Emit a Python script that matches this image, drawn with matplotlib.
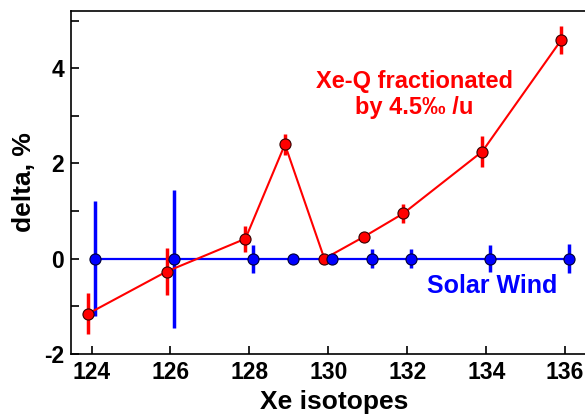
import matplotlib
matplotlib.use("Agg")
import matplotlib.pyplot as plt
from matplotlib.ticker import MultipleLocator

isotopes = [124, 126, 128, 129, 130, 131, 132, 134, 136]
xeq_delta = [-1.16, -0.27, 0.42, 2.40, 0.0, 0.46, 0.95, 2.25, 4.59]
xeq_err = [0.43, 0.50, 0.27, 0.22, 0.0, 0.08, 0.20, 0.32, 0.30]
sw_delta = [0, 0, 0, 0, 0, 0, 0, 0, 0]
sw_err = [1.21, 1.45, 0.29, 0.0, 0.0, 0.20, 0.20, 0.28, 0.30]
x_ticks = [124, 126, 128, 130, 132, 134, 136]
y_ticks = [-2, 0, 2, 4]

plt.rcParams['font.family'] = ['Liberation Sans', 'DejaVu Sans']
plt.rcParams['axes.unicode_minus'] = False
fig = plt.figure(figsize=(5.85, 4.15), dpi=100)
ax = fig.add_axes([71/585, 1-354/415, 1.02 - 71/585, (354-11)/415])

xr = [x - 0.1 for x in isotopes]
xb = [x + 0.1 for x in isotopes]

ax.errorbar(xb, sw_delta, yerr=sw_err, fmt='none', ecolor='#0000ff', elinewidth=2.5, capsize=0, zorder=2)
ax.plot(xb, sw_delta, color='#0000ff', lw=1.6, zorder=2)
ax.plot(xb, sw_delta, 'o', color='#0000ff', mec='#000033', mew=0.8, ms=8, zorder=4)

ax.errorbar(xr, xeq_delta, yerr=xeq_err, fmt='none', ecolor='#ff0000', elinewidth=2.5, capsize=0, zorder=3)
ax.plot(xr, xeq_delta, color='#ff0000', lw=1.5, zorder=3)
ax.plot(xr, xeq_delta, 'o', color='#ff0000', mec='#330000', mew=0.8, ms=8, zorder=3.5)

ax.set_xlim(123.48, 136.8)
ax.set_ylim(-2, 5.2)
ax.set_xticks(x_ticks)
ax.set_yticks(y_ticks)
ax.yaxis.set_minor_locator(MultipleLocator(1))
ax.tick_params(axis='both', which='both', direction='in', length=6, width=1.2, top=False, right=False)
ax.tick_params(axis='both', which='major', labelsize=16.5, pad=5)
for lab in ax.get_xticklabels() + ax.get_yticklabels():
    lab.set_fontweight('bold')
for s in ['left', 'bottom', 'top']:
    ax.spines[s].set_linewidth(1.2)
ax.spines['right'].set_visible(False)

ax.set_xlabel('Xe isotopes', fontsize=19, fontweight='bold', labelpad=4)
ax.set_ylabel('delta, %', fontsize=19, fontweight='bold', labelpad=6)

ax.text(132.18, 3.45, 'Xe-Q fractionated\nby 4.5\u2030 /u', color='#ff0000', fontsize=17,
        fontweight='bold', ha='center', va='center', linespacing=1.2)
ax.text(134.14, -0.57, 'Solar Wind', color='#0000ff', fontsize=18, fontweight='bold',
        ha='center', va='center')

fig.savefig('out.png', dpi=100)
